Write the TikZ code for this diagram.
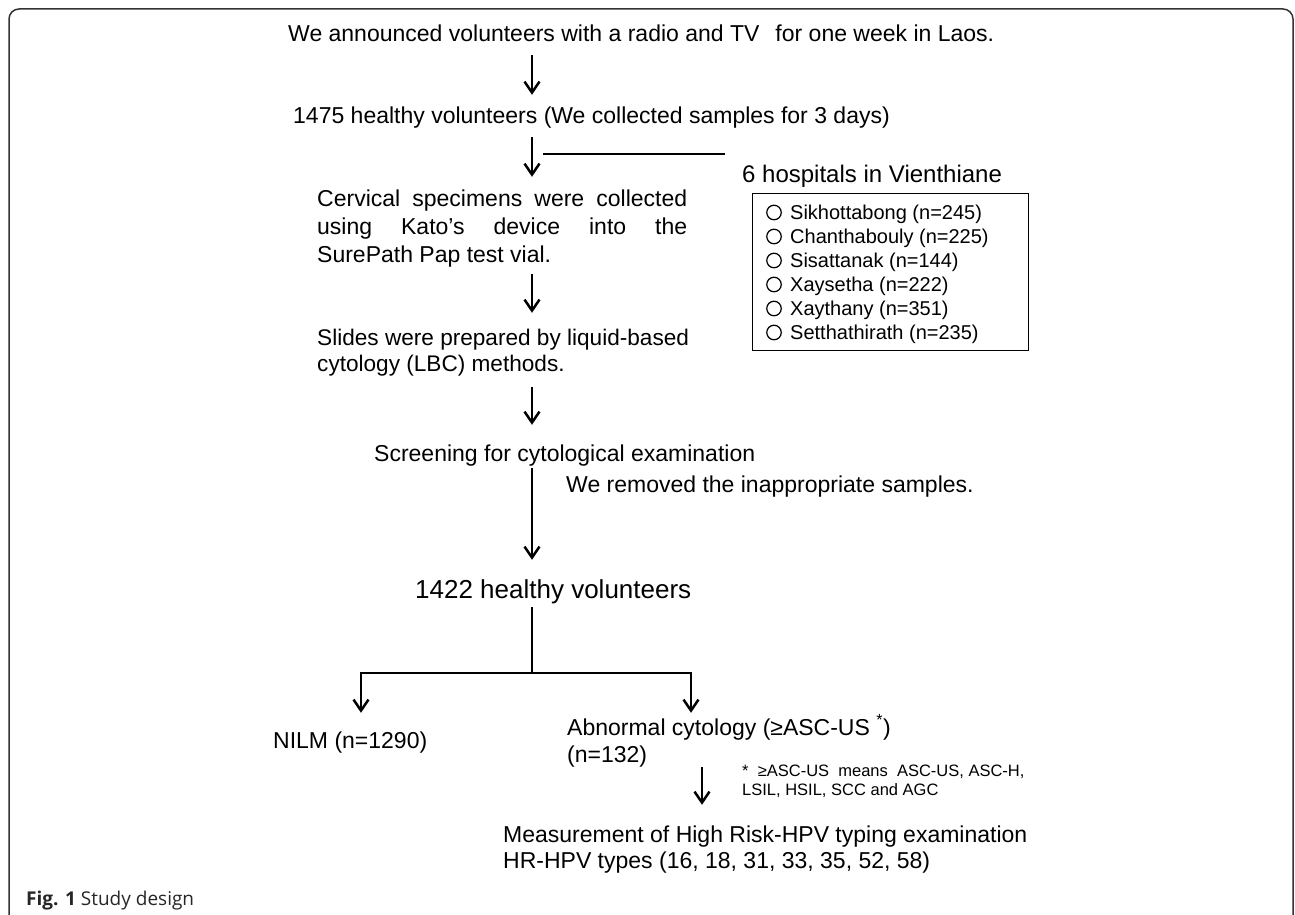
\documentclass[tikz,border=0pt]{standalone}
\usepackage{fontspec}
\setmainfont{Liberation Sans}
\newfontfamily\capfont{Open Sans}
\usetikzlibrary{arrows.meta}
\begin{document}
\begin{tikzpicture}[x=1pt,y=-1pt,
  tx/.style={inner sep=0pt, anchor=base west, font=\fontsize{23}{28}\selectfont, text height=16.6pt, text depth=4.8pt},
  tbig/.style={tx, font=\fontsize{26}{31}\selectfont, text height=18.7pt, text depth=5.5pt},
  thosp/.style={tx, font=\fontsize{20}{24}\selectfont, text height=14.4pt, text depth=4.2pt},
  tsmall/.style={tx, font=\fontsize{16.5}{18}\selectfont, text height=11.9pt, text depth=3.5pt},
  tslide/.style={tx, font=\fontsize{22.6}{27}\selectfont},
  arr/.style={line width=2.5pt, -{Straight Barb[length=11pt,width=15pt]}},
  ln/.style={line width=2.5pt},
  bullet/.style={circle, draw, line width=1.2pt, inner sep=0pt, minimum size=14.5pt},
  frame/.style={line width=1.5pt, draw=black!80, rounded corners=10pt},
]
\useasboundingbox (0,0) rectangle (1295,915);
\draw[frame] (9,925) -- (9,9) -- (1293,9) -- (1293,925);

% main column texts
\node[tx] (title) at (288,42) {We announced volunteers with a radio and TV\hspace{16pt}for one week in Laos.};
\node[tx] (vol) at (293,124) {1475 healthy volunteers (We collected samples for 3 days)};
\node[tx] (cerv1) at (317,206) {\makebox[370pt][s]{Cervical specimens were collected}};
\node[tx] (cerv2) at (317,234) {\makebox[370pt][s]{using Kato’s device into the}};
\node[tx] (cerv3) at (317,262) {SurePath Pap test vial.};
\node[tslide] (sl1) at (317,345) {Slides were prepared by liquid-based};
\node[tslide] (sl2) at (317,371) {cytology (LBC) methods.};
\node[tx] (scr) at (374,461) {Screening for cytological examination};
\node[tx] (rem) at (566,492) {We removed the inappropriate samples.};
\node[tbig] (v1422) at (415,598) {1422 healthy volunteers};
\node[tx] (nilm) at (273,748) {NILM (n=1290)};
\node[tx] (abn1) at (567,735) {Abnormal cytology (≥ASC-US \textsuperscript{*})};
\node[tx] (abn2) at (567,762) {(n=132)};
\node[tsmall] (fn1) at (742,776) {*\ \ ≥ASC-US\ \ means\ \ ASC-US, ASC-H,};
\node[tsmall] (fn2) at (742,795) {LSIL, HSIL, SCC and AGC};
\node[tx] (m1) at (503,842) {Measurement of High Risk-HPV typing examination};
\node[tx] (m2) at (503,868) {HR-HPV types (16, 18, 31, 33, 35, 52, 58)};
\node[inner sep=0pt, anchor=base west, font=\capfont\fontsize{19}{22}\selectfont, text=black!85] (cap) at (26,905) {\textbf{Fig. 1} Study design};

% hospitals
\node[tx, font=\fontsize{24}{28}\selectfont] (hosp) at (742,182) {6 hospitals in Vienthiane};
\node[draw, line width=1.2pt, inner sep=0pt, minimum width=276pt, minimum height=157pt, anchor=north west] (hbox) at (752,193) {};
\node[bullet] (b1) at (774,212.5) {};
\node[thosp] (h1) at (790,219) {Sikhottabong (n=245)};
\node[bullet] (b2) at (774,236.5) {};
\node[thosp] (h2) at (790,243) {Chanthabouly (n=225)};
\node[bullet] (b3) at (774,260.5) {};
\node[thosp] (h3) at (790,267) {Sisattanak (n=144)};
\node[bullet] (b4) at (774,284.5) {};
\node[thosp] (h4) at (790,291) {Xaysetha (n=222)};
\node[bullet] (b5) at (774,308.5) {};
\node[thosp] (h5) at (790,315) {Xaythany (n=351)};
\node[bullet] (b6) at (774,332.5) {};
\node[thosp] (h6) at (790,339) {Setthathirath (n=235)};

% connectors
\coordinate (ax) at (532,0);
\coordinate (ax2) at (702,0);
\coordinate (hl1) at (543,154);
\coordinate (hl2) at (725,154);
\coordinate (br) at (532,673);
\coordinate (bl) at (361,673);
\coordinate (brr) at (691,673);

\draw[arr, shorten <=8.2pt, shorten >=12.4pt] (title.south -| ax) -- (vol.north -| ax);
\draw[arr, shorten <=8.2pt, shorten >=12.4pt] (vol.south -| ax) -- (cerv1.north -| ax);
\draw[line width=2pt] (hl1) -- (hl2);
\draw[arr, shorten <=7.2pt, shorten >=15.4pt] (cerv3.south -| ax) -- (sl1.north -| ax);
\draw[arr, shorten <=11.2pt, shorten >=19.4pt] (sl2.south -| ax) -- (scr.north -| ax);
\draw[arr, shorten <=2.2pt, shorten >=19.3pt] (scr.south -| ax) -- (v1422.north -| ax);
\draw[ln, shorten <=3.5pt] (v1422.south -| ax) -- (br);
\draw[arr, shorten >=18.4pt] (br) -| (nilm.north -| bl);
\draw[arr, shorten >=5.4pt] (br) -| (abn1.north -| brr);
\draw[arr, shorten >=20.4pt] (abn2.south -| ax2) -- (m1.north -| ax2);
\end{tikzpicture}
\end{document}
